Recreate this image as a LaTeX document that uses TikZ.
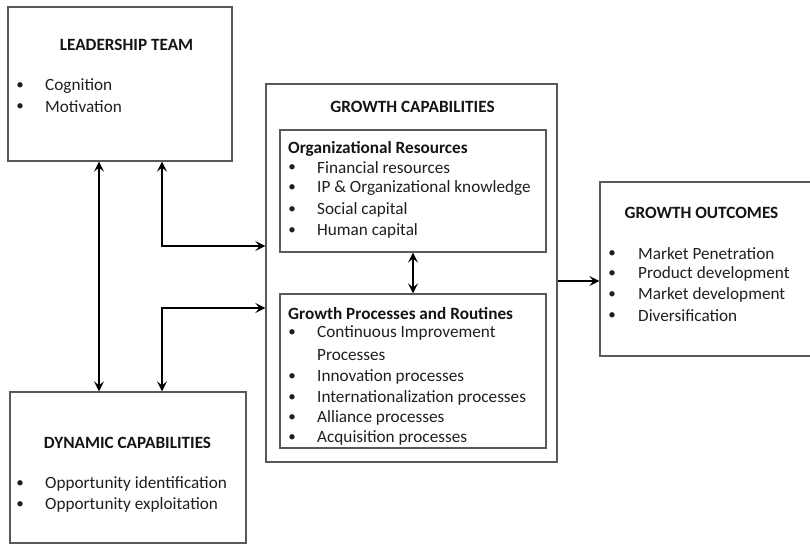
\documentclass[tikz,border=0pt]{standalone}
\usepackage{fontspec}
\setmainfont{Carlito}
\usetikzlibrary{arrows.meta}
\begin{document}
\begin{tikzpicture}[x=1pt,y=-1pt,
  box/.style={draw=black!65, line width=1.3pt, inner sep=0pt, rectangle},
  arr/.style={line width=1.9pt, black, >={Stealth[length=10pt,width=10pt,inset=4pt]}},
  head/.style={font=\fontsize{17.2}{20}\selectfont\bfseries, inner sep=0pt, text=black!92},
  item/.style={font=\fontsize{17.2}{20}\selectfont, anchor=west, inner sep=0pt, text=black!88},
  dot/.style={font=\fontsize{15}{18}\selectfont, inner sep=0pt, text=black!88}]
\useasboundingbox (0,0) rectangle (810,545);
\clip (0,0) rectangle (810,545);

% boxes
\node[box, minimum width=224pt, minimum height=154pt] (lt) at (120,84) {};
\node[box, minimum width=236pt, minimum height=151pt] (dc) at (128,467.5) {};
\node[box, minimum width=291pt, minimum height=378pt] (gc) at (411.5,273) {};
\node[box, minimum width=266pt, minimum height=122pt] (ors) at (413,191) {};
\node[box, minimum width=266pt, minimum height=154pt] (gp) at (413,371) {};
\node[box, minimum width=215pt, minimum height=174pt] (go) at (707.5,269) {};

% headings
\node[head] (ltT) at (126.5,45) {LEADERSHIP TEAM};
\node[head] (dcT) at (127.5,443) {DYNAMIC CAPABILITIES};
\node[head] (gcT) at (412.5,107) {GROWTH CAPABILITIES};
\node[head] (goT) at (701.5,213) {GROWTH OUTCOMES};
\node[head, anchor=west] (orsT) at (288,149) {Organizational Resources};
\node[head, anchor=west] (gpT) at (288,314) {Growth Processes and Routines};

% bulleted lists
\foreach \y/\t [count=\i] in {86/Cognition, 107/Motivation} {
  \node[dot] (ltb\i) at (20,\y) {•};
  \node[item] (lti\i) at (45,\y) {\t};
}
\foreach \y/\t [count=\i] in {484/Opportunity identification, 505/Opportunity exploitation} {
  \node[dot] (dcb\i) at (20,\y) {•};
  \node[item] (dci\i) at (45,\y) {\t};
}
\foreach \y/\t [count=\i] in {168/Financial resources, 188/IP \& Organizational knowledge, 210/Social capital, 231/Human capital} {
  \node[dot] (orsb\i) at (292,\y) {•};
  \node[item] (orsi\i) at (317,\y) {\t};
}
\foreach \y/\t [count=\i] in {333/Continuous Improvement, 377/Innovation processes, 398/Internationalization processes, 418/Alliance processes, 438/Acquisition processes} {
  \node[dot] (gpb\i) at (292,\y) {•};
  \node[item] (gpi\i) at (317,\y) {\t};
}
\node[item] (gpi1b) at (317,355) {Processes};
\foreach \y/\t [count=\i] in {254/Market Penetration, 274/Product development, 295/Market development, 316/Diversification} {
  \node[dot] (gob\i) at (612,\y) {•};
  \node[item] (goi\i) at (638,\y) {\t};
}

% helper coordinates for connector routing
\coordinate (xa) at (99,0);
\coordinate (xb) at (162,0);
\coordinate (ya) at (0,246);
\coordinate (yb) at (0,308);
\coordinate (yc) at (0,281);

% connectors
\draw[arr,<->] (xa |- lt.south) -- (xa |- dc.north);
\draw[arr,<->] (xb |- lt.south) |- (gc.west |- ya);
\draw[arr,<->] (xb |- dc.north) |- (gc.west |- yb);
\draw[arr,<->] (ors.south) -- (gp.north);
\draw[arr,->] (gc.east |- yc) -- (go.west |- yc);
\end{tikzpicture}
\end{document}
